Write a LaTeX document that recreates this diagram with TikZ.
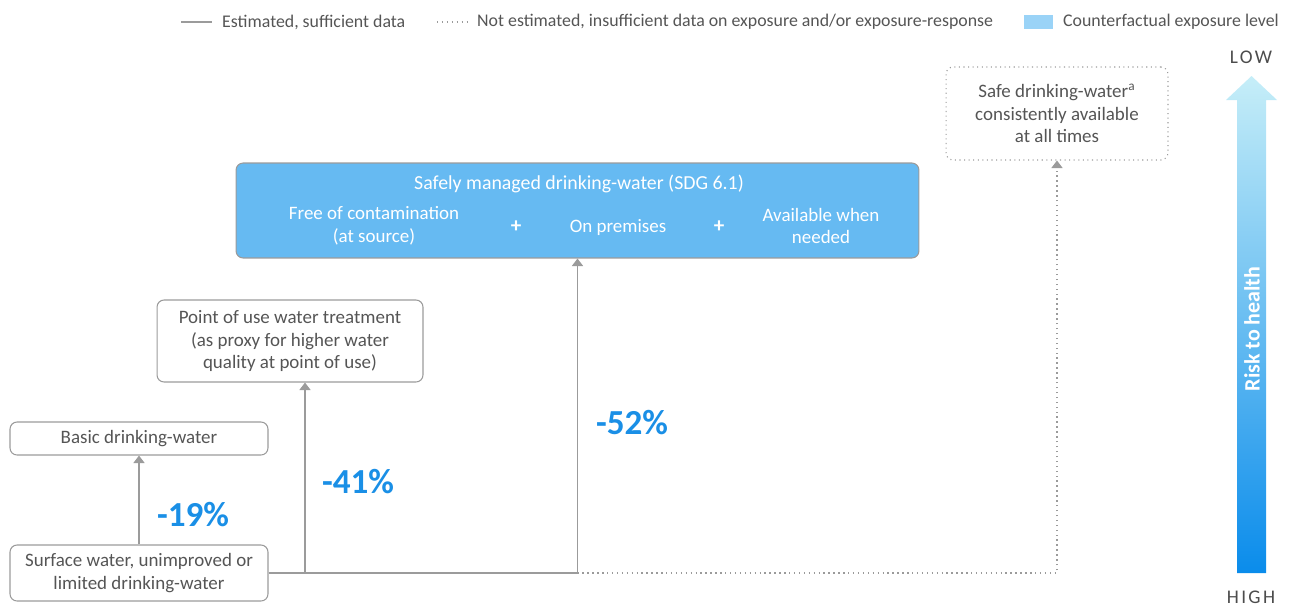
\documentclass[tikz,border=0pt]{standalone}
\usepackage{fontspec}
\setmainfont{Carlito}
\newfontfamily\spacedfont[LetterSpace=12]{Carlito}
\usepackage{xcolor}
\usetikzlibrary{positioning,arrows.meta}
\definecolor{wGrey}{HTML}{555555}
\definecolor{wLine}{HTML}{9B9B9B}
\definecolor{wBox}{HTML}{66BAF2}
\definecolor{wPct}{HTML}{1A8FE6}
\definecolor{wSwatch}{HTML}{9AD3F7}
\definecolor{wTop}{HTML}{C6EEF8}
\definecolor{wBottom}{HTML}{0A8CEB}
\tikzset{
  box/.style={draw=wLine, line width=0.6pt, rounded corners=4pt, align=center,
              text=wGrey, inner sep=2pt, font=\fontsize{10.8}{13}\selectfont},
  body/.style={text=wGrey, align=center, font=\fontsize{10.8}{13}\selectfont},
  legend/.style={body, anchor=west, font=\fontsize{10.15}{12}\selectfont},
  pct/.style={text=wPct, font=\fontsize{20}{22}\selectfont\bfseries},
  link/.style={draw=wLine, line width=0.8pt, -{Triangle[length=1.5mm, width=2.2mm]}},
  dotlink/.style={link, dotted},
}

\begin{document}
\begin{tikzpicture}[x=0.02cm, y=-0.02cm]
  \useasboundingbox (0,0) rectangle (1289,606);

  % legend
  \coordinate (solidA) at (181,22);
  \coordinate (solidB) at (212,22);
  \draw[wLine, line width=0.8pt] (solidA) -- (solidB);
  \node[legend] (legSolid) at (216,22) {Estimated, sufficient data};
  \coordinate (dotA) at (437,22);
  \coordinate (dotB) at (467,22);
  \draw[wLine, line width=0.8pt, dotted] (dotA) -- (dotB);
  \node[legend] (legDotted) at (471,22)
    {Not estimated, insufficient data on exposure and/or exposure-response};
  \fill[wSwatch] (1024,15) rectangle (1053,29);
  \node[legend] (legSwatch) at (1057,22) {Counterfactual exposure level};

  % risk scale
  \shade[top color=wTop, bottom color=wBottom]
    (1237,573) -- (1237,100) -- (1226,100) -- (1251.5,76) -- (1277,100)
    -- (1266,100) -- (1266,573) -- cycle;
  \node[text=wGrey!90!black, font=\spacedfont\fontsize{11}{12}\selectfont] (low) at (1251,57) {LOW};
  \node[text=wGrey!90!black, font=\spacedfont\fontsize{11}{12}\selectfont] (high) at (1251,597) {HIGH};
  \node[rotate=90, text=white, font=\fontsize{12.5}{13}\selectfont\bfseries] (risk) at (1252,329) {Risk to health};

  % exposure levels
  \node[box, minimum width=5.16cm, minimum height=1.12cm] (surface) at (139,573)
    {Surface water, unimproved or\\limited drinking-water};
  \node[box, minimum width=5.16cm, minimum height=0.66cm] (basic) at (139,438.5)
    {Basic drinking-water};
  \node[box, minimum width=5.32cm, minimum height=1.64cm] (pou) at (290,341)
    {Point of use water treatment\\(as proxy for higher water\\quality at point of use)};
  \node[box, fill=wBox, minimum width=13.66cm, minimum height=1.9cm] (sdg) at (577.5,210.5) {};
  \node[body, text=white, font=\fontsize{11.3}{13}\selectfont] (sdgTitle) at (579,184)
    {Safely managed drinking-water (SDG 6.1)};
  \node[body, text=white] (free) at (374,226) {Free of contamination\\(at source)};
  \node[body, text=white, font=\fontsize{12}{13}\selectfont\bfseries] (plusA) at (516,227) {+};
  \node[body, text=white] (premises) at (618,227) {On premises};
  \node[body, text=white, font=\fontsize{12}{13}\selectfont\bfseries] (plusB) at (719,227) {+};
  \node[body, text=white] (avail) at (821,226) {Available when\\needed};
  \node[box, dotted, minimum width=4.44cm, minimum height=1.86cm] (safe) at (1057,113.5)
    {Safe drinking-water\textsuperscript{a}\\consistently available\\at all times};

  % connectors
  \draw[link] (surface.north) -- (basic.south);
  \draw[link] (surface.east) -| ([xshift=0.3cm]pou.south);
  \draw[link] (surface.east) -| (sdg.south);
  \draw[dotlink] (sdg.south |- surface.east) -| (safe.south);

  % reductions
  \node[pct] (pctBasic) at (193,515) {-19\%};
  \node[pct] (pctPou) at (358,482) {-41\%};
  \node[pct] (pctSdg) at (632,423) {-52\%};
\end{tikzpicture}
\end{document}
